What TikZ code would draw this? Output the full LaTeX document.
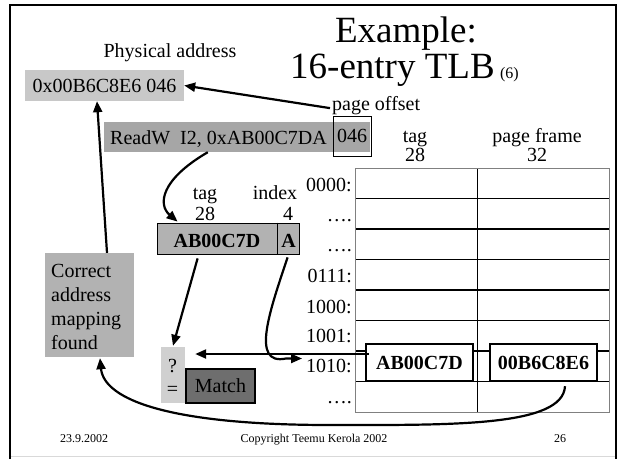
\documentclass[tikz,border=0pt]{standalone}
\usepackage{fontspec}
\setmainfont{Liberation Serif}
\usetikzlibrary{arrows.meta,calc}
\definecolor{physgray}{HTML}{C8C8C8}
\definecolor{readgray}{HTML}{A6A6A6}
\definecolor{taggray}{HTML}{B2B2B2}
\definecolor{qgray}{HTML}{D0D0D0}
\definecolor{matchgray}{HTML}{6E6E6E}
\definecolor{tblgray}{HTML}{808080}
\begin{document}
\begin{tikzpicture}[x=1pt,y=-1pt,
  txt/.style={font=\fontsize{20}{24}\selectfont, inner sep=0pt},
  btxt/.style={font=\fontsize{20}{24}\selectfont\bfseries, inner sep=0pt},
  foot/.style={font=\fontsize{12}{14}\selectfont, inner sep=0pt, anchor=base},
  ttl/.style={font=\fontsize{37}{40}\selectfont, inner sep=0pt, anchor=base},
  box/.style={rectangle, inner sep=0pt, minimum width=#1},
  arr/.style={line width=2.2pt,-{Triangle[length=11pt,width=9pt]}},
  hbox/.style={rectangle, draw, line width=2.4pt, fill=white, inner sep=0pt,
    minimum width=107pt, minimum height=37pt, font=\fontsize{20}{24}\selectfont\bfseries},
  rowlbl/.style={txt, anchor=base east}
]
\useasboundingbox (0,0) rectangle (618,459);
% frame
\draw[line width=2pt] (10,459) -- (10,5) -- (616,5) -- (616,459);
\draw[gray!30, line width=1pt] (11,456.5) -- (615,456.5);

% title
\node[ttl] (t1) at (406,42) {Example:};
\node[ttl, anchor=base west] (t2) at (290,78) {16-entry TLB};
\node[font=\fontsize{16}{18}\selectfont, inner sep=0pt, anchor=base west] (t3) at ($(t2.base east)+(5,0)$) {(6)};

% physical address
\node[txt, anchor=base] (physlbl) at (170,57) {Physical address};
\node[box=159pt, minimum height=31pt, fill=physgray, txt] (phys) at (104.5,85.5) {0x00B6C8E6 046};

% page offset
\node[txt, anchor=base west] (poff) at (332,110) {page offset};

% ReadW box
\node[box=266pt, minimum height=30pt, fill=readgray] (readw) at (237,137) {};
\node[txt, anchor=base west] (readtxt) at (110,144) {ReadW\ \ I2, 0xAB00C7DA};
\node[rectangle, draw, line width=0.8pt, inner sep=0pt, minimum width=38pt, minimum height=40pt, txt] (off) at (352,136) {046};

% tag/index labels
\node[txt, anchor=base] (taglbl) at (205,199) {tag};
\node[txt, anchor=base] (tagnum) at (205,220) {28};
\node[txt, anchor=base] (idxlbl) at (275,199) {index};
\node[txt, anchor=base] (idxnum) at (288,220) {4};

% tag box
\node[box=142pt, minimum height=31pt, fill=taggray, draw, line width=0.8pt] (tagbox) at (228,238.5) {};
\draw[line width=0.8pt] ($(tagbox.north west)+(121,0)$) -- ($(tagbox.south west)+(121,0)$);
\node[btxt, anchor=base] (tagval) at (217,247) {AB00C7D};
\node[btxt, anchor=base] (idxval) at (288.5,247) {A};

% correct box
\node[box=89pt, minimum height=104pt, fill=taggray] (corr) at (89.5,305) {};
\node[txt, anchor=base west] (c1) at (51,277) {Correct};
\node[txt, anchor=base west] (c2) at (51,301) {address};
\node[txt, anchor=base west] (c3) at (51,325) {mapping};
\node[txt, anchor=base west] (c4) at (51,349) {found};

% ?= box and match
\node[box=24pt, minimum height=56pt, fill=qgray] (qbox) at (173,375) {};
\node[txt, anchor=base] (qmark) at (172.5,372) {?};
\node[txt, anchor=base] (eqsign) at (172.5,395) {=};
\node[rectangle, draw, line width=2pt, fill=matchgray, inner sep=0pt, minimum width=69pt, minimum height=34pt, txt] (match) at (220.5,386) {Match};

% TLB headers
\node[txt, anchor=base] (thtag) at (415,142) {tag};
\node[txt, anchor=base] (thtagn) at (415,161) {28};
\node[txt, anchor=base] (thpf) at (537,142) {page frame};
\node[txt, anchor=base] (thpfn) at (537,161) {32};

% TLB table
\foreach \i in {1,...,7} {
  \draw[line width=1.4pt] (355,168+30.5*\i) -- (609,168+30.5*\i);
}
\draw[line width=0.9pt] (477,168) -- (477,412);
\draw[tblgray, line width=1pt] (355,168) rectangle (609,412);

% row labels
\node[rowlbl] (l0000) at (352,191) {0000:};
\node[rowlbl] (ld1) at (352,221) {\dots.};
\node[rowlbl] (ld2) at (352,251) {\dots.};
\node[rowlbl] (l0111) at (352,282) {0111:};
\node[rowlbl] (l1000) at (352,313) {1000:};
\node[rowlbl] (l1001) at (352,342) {1001:};
\node[rowlbl] (l1010) at (352,372) {1010:};
\node[rowlbl] (ld3) at (352,403) {\dots.};

% highlighted entries
\node[hbox] (hb1) at (419.5,362.5) {AB00C7D};
\node[hbox] (hb2) at (543.5,362.5) {00B6C8E6};

% connectors
\draw[arr] ($(poff.west)+(-2,3)$) -- (phys.east);
\draw[arr] ($(readw.south west)+(104,0)$) .. controls (160,180) and (158,205) .. ($(tagbox.north west)+(21,-1)$);
\draw[arr] ($(corr.north)+(17.5,0)$) -- ($(phys.south)+(-7.5,0)$);
\draw[arr] ($(tagbox.south west)+(41,4)$) -- ($(qbox.north)+(0,-1)$);
\draw[arr] ($(tagbox.south west)+(131,3)$) .. controls (270,310) and (250,366) .. ($(l1010.west)+(-20,-7)$) -- ($(l1010.west)+(-4,-7)$);
\draw[arr] ($(hb1.west)+(4,-8.5)$) -- ($(qbox.east)+(10,-21)$);
\draw[arr] ($(hb2.south)+(21.5,4)$) .. controls (563,427) and (450,425) .. (330,425) .. controls (170,425) and (104,400) .. ($(corr.south)+(10.5,1)$);

% footer
\node[foot] (fdate) at (84,442) {23.9.2002};
\node[foot] (fcopy) at (314,442) {Copyright Teemu Kerola 2002};
\node[foot] (fpage) at (560,442) {26};
\end{tikzpicture}
\end{document}
